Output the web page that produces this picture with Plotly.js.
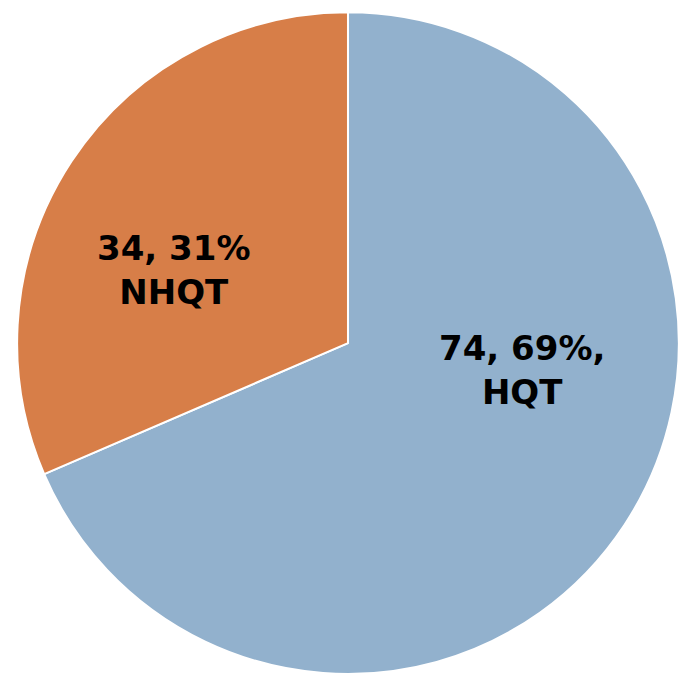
<!DOCTYPE html>
<html>
<head>
<meta charset="utf-8">
<script src="https://cdn.plot.ly/plotly-3.0.1.min.js"></script>
<style>html,body{margin:0;padding:0;background:#fff;}#chart{width:679px;height:681px;}</style>
</head>
<body>
<div id="chart"></div>
<script>
const categories = ["HQT", "NHQT"];
const counts = [74, 34];
const percents = [69, 31];
const labelText = ["74, 69%,<br>HQT", "34, 31%<br>NHQT"];
const colors = ["#92B1CD", "#D77E48"];

const trace = {
  type: "pie",
  labels: categories,
  values: counts,
  sort: false,
  direction: "clockwise",
  rotation: 0,
  textinfo: "none",
  hoverinfo: "label+value+percent",
  marker: {colors: colors, line: {color: "#ffffff", width: 2}},
  domain: {x: [0.025, 1.0], y: [0.0103, 0.982]},
  showlegend: false
};

const annPos = [[0.769, 0.457], [0.256, 0.604]];
const annotations = labelText.map((t, i) => ({
  text: "<b>" + t + "</b>",
  x: annPos[i][0], y: annPos[i][1], xref: "paper", yref: "paper",
  xanchor: "center", yanchor: "middle", showarrow: false,
  font: {family: "DejaVu Sans", size: 34, color: "#000"}
}));

Plotly.newPlot("chart", [trace], {
  width: 679, height: 681,
  margin: {l: 0, r: 0, t: 0, b: 0},
  paper_bgcolor: "#ffffff",
  annotations: annotations
}, {displayModeBar: false, staticPlot: true});
</script>
</body>
</html>
